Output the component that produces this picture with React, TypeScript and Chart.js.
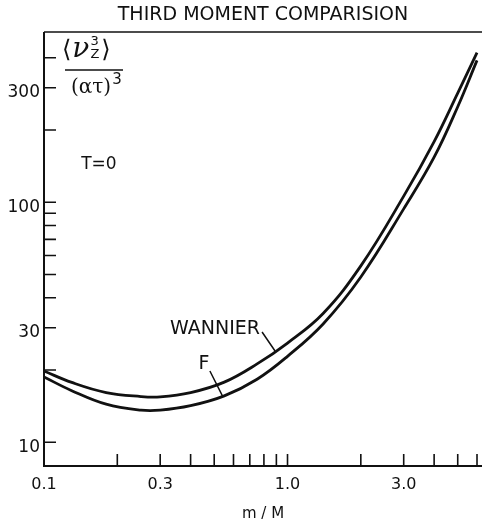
import React, { useEffect, useRef } from 'react';
import { Chart, registerables } from 'chart.js';

Chart.register(...registerables);

// ---- data ----
const massRatio = [0.1, 0.13, 0.18, 0.25, 0.3, 0.4, 0.55, 0.75, 1.0, 1.4, 2.0, 3.0, 4.0, 5.0, 6.0];
const wannier = [19.8, 17.75, 16.1, 15.5, 15.45, 16.1, 17.8, 21.2, 25.9, 34.4, 54.3, 106, 179, 285, 420];
const fModel = [18.7, 16.4, 14.4, 13.6, 13.6, 14.2, 15.6, 18.3, 22.8, 31.1, 48.8, 93.8, 154, 250, 390];

const xTickValues = [0.1, 0.3, 1, 3];
const xTickLabels = ['0.1', '0.3', '1.0', '3.0'];
const xMinorTicks = [0.2, 0.4, 0.5, 0.6, 0.7, 0.8, 0.9, 2, 4, 5, 6];

const yTickValues = [10, 30, 100, 300];
const yTickLabels = ['10', '30', '100', '300'];
const yMinorTicks = [20, 40, 50, 60, 70, 80, 90, 200, 400];

const INK = '#111';
const FONT = "'DejaVu Sans', sans-serif";

const framePlugin = {
  id: 'frame',
  afterDraw(chart: any) {
    const { ctx, chartArea: a, scales } = chart;
    const xs = scales.x;
    const ys = scales.y;
    ctx.save();
    ctx.strokeStyle = INK;
    ctx.fillStyle = INK;
    ctx.lineCap = 'butt';

    // axes
    ctx.lineWidth = 2;
    ctx.beginPath();
    ctx.moveTo(a.left, a.top);
    ctx.lineTo(a.left, a.bottom);
    ctx.lineTo(a.right, a.bottom);
    ctx.stroke();
    ctx.lineWidth = 1.6;
    ctx.beginPath();
    ctx.moveTo(a.left, a.top);
    ctx.lineTo(a.right, a.top);
    ctx.stroke();

    // inward ticks
    ctx.lineWidth = 1.6;
    ctx.beginPath();
    [...xTickValues, ...xMinorTicks].forEach((v) => {
      const px = xs.getPixelForValue(v);
      if (px <= a.left + 1) return;
      ctx.moveTo(px, a.bottom);
      ctx.lineTo(px, a.bottom - 12);
    });
    [...yTickValues, ...yMinorTicks].forEach((v) => {
      const py = ys.getPixelForValue(v);
      ctx.moveTo(a.left, py);
      ctx.lineTo(a.left + 12, py);
    });
    ctx.stroke();

    const P = (x: number, y: number) => [xs.getPixelForValue(x), ys.getPixelForValue(y)];

    // T=0
    ctx.textAlign = 'center';
    ctx.textBaseline = 'middle';
    ctx.font = `17px ${FONT}`;
    let [tx, ty] = P(0.168, 143);
    ctx.fillText('T=0', tx, ty);

    // curve labels + leaders
    ctx.font = `19px ${FONT}`;
    [tx, ty] = P(0.504, 29.6);
    ctx.fillText('WANNIER', tx, ty);
    [tx, ty] = P(0.454, 21.2);
    ctx.fillText('F', tx, ty);
    ctx.lineWidth = 1.5;
    ctx.beginPath();
    let [a1, b1] = P(0.786, 28.8);
    let [a2, b2] = P(0.889, 24.0);
    ctx.moveTo(a1, b1);
    ctx.lineTo(a2, b2);
    [a1, b1] = P(0.48, 19.8);
    [a2, b2] = P(0.543, 15.45);
    ctx.moveTo(a1, b1);
    ctx.lineTo(a2, b2);
    ctx.stroke();

    // y-axis quantity: <v_z^3> / (a t)^3
    const L = a.left;
    const T = a.top;
    ctx.textAlign = 'left';
    ctx.textBaseline = 'alphabetic';
    let cx = L + 18;
    const nb = T + 25;
    ctx.font = `24px ${FONT}`;
    ctx.fillText('⟨', cx, nb);
    cx += ctx.measureText('⟨').width + 1;
    ctx.font = `italic 28px 'DejaVu Serif', serif`;
    ctx.fillText('ν', cx, nb);
    cx += ctx.measureText('ν').width + 1;
    ctx.font = `13px ${FONT}`;
    ctx.fillText('3', cx, T + 13);
    ctx.fillText('Z', cx, T + 26);
    cx += ctx.measureText('Z').width + 2;
    ctx.font = `24px ${FONT}`;
    ctx.fillText('⟩', cx, nb);

    ctx.lineWidth = 1.6;
    ctx.beginPath();
    ctx.moveTo(L + 21, T + 38);
    ctx.lineTo(L + 79, T + 38);
    ctx.stroke();

    ctx.font = `20px 'DejaVu Serif', serif`;
    const den = '(ατ)';
    ctx.fillText(den, L + 27, T + 61);
    const dw = ctx.measureText(den).width;
    ctx.font = `15px ${FONT}`;
    ctx.fillText('3', L + 27 + dw + 1, T + 52);

    ctx.restore();
  },
};

export default function App() {
  const ref = useRef<HTMLCanvasElement | null>(null);

  useEffect(() => {
    if (!ref.current) return;
    const chart = new Chart(ref.current, {
      type: 'line',
      data: {
        datasets: [
          {
            label: 'WANNIER',
            data: massRatio.map((m, i) => ({ x: m, y: wannier[i] })),
            borderColor: INK,
            borderWidth: 2.8,
            pointRadius: 0,
            fill: false,
            tension: 0.4,
          },
          {
            label: 'F',
            data: massRatio.map((m, i) => ({ x: m, y: fModel[i] })),
            borderColor: INK,
            borderWidth: 2.8,
            pointRadius: 0,
            fill: false,
            tension: 0.4,
          },
        ],
      },
      options: {
        responsive: false,
        animation: false,
        devicePixelRatio: 1,
        layout: { padding: 0 },
        plugins: {
          legend: { display: false },
          tooltip: { enabled: false },
          title: {
            display: true,
            text: 'THIRD MOMENT COMPARISION',
            fullSize: false,
            color: INK,
            font: { family: FONT, size: 19, weight: 'normal', lineHeight: 1.2 },
            padding: { top: 4, bottom: 5.2 },
          },
        },
        scales: {
          x: {
            type: 'logarithmic',
            position: 'bottom',
            min: 0.1,
            max: 6.29,
            afterBuildTicks: (axis: any) => {
              axis.ticks = xTickValues.map((v) => ({ value: v }));
            },
            afterFit: (axis: any) => {
              axis.height = 56;
            },
            grid: { display: false, drawTicks: false },
            border: { display: false },
            ticks: {
              autoSkip: false,
              maxRotation: 0,
              padding: 9,
              color: INK,
              font: { family: FONT, size: 16 },
              callback: (_v: any, i: number) => xTickLabels[i],
            },
            title: {
              display: true,
              text: 'm / M',
              color: INK,
              font: { family: FONT, size: 15, lineHeight: 1 },
              padding: { top: 0, bottom: 0 },
            },
          },
          y: {
            type: 'logarithmic',
            position: 'left',
            min: 7.96,
            max: 512,
            afterBuildTicks: (axis: any) => {
              axis.ticks = yTickValues.map((v) => ({ value: v }));
            },
            afterFit: (axis: any) => {
              axis.width = 44;
            },
            grid: { display: false, drawTicks: false },
            border: { display: false },
            ticks: {
              autoSkip: false,
              padding: 4,
              labelOffset: 5,
              color: INK,
              font: { family: FONT, size: 17 },
              callback: (_v: any, i: number) => yTickLabels[i],
            },
          },
        },
      } as any,
      plugins: [framePlugin],
    });
    return () => chart.destroy();
  }, []);

  return (
    <div style={{ position: 'fixed', left: 0, top: 0, width: 482, height: 522, background: '#fff' }}>
      <canvas ref={ref} width={482} height={522} />
    </div>
  );
}
